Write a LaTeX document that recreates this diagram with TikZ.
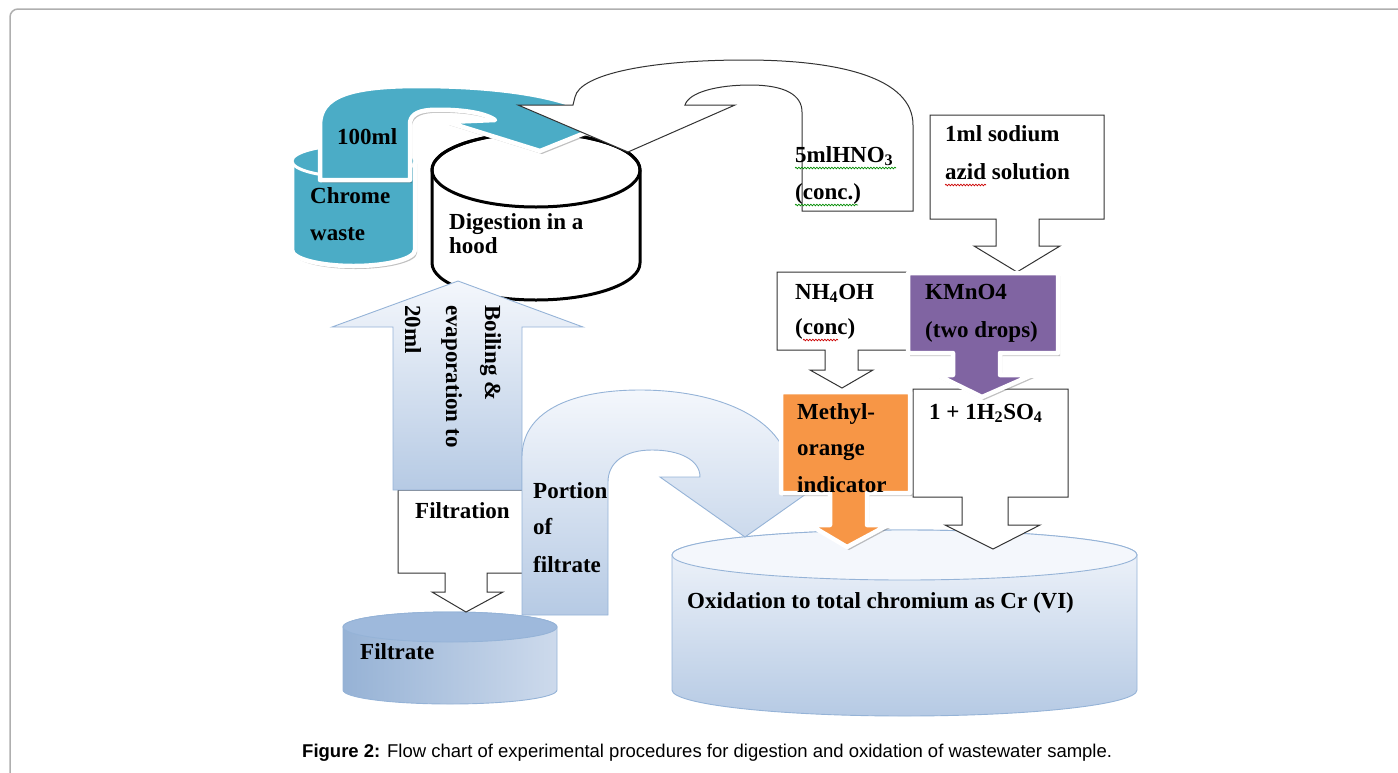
\documentclass[tikz,border=0pt]{standalone}
\usepackage{fontspec}
\setmainfont{Liberation Serif}
\newfontfamily\capfont{Liberation Sans}
\usetikzlibrary{decorations.pathmorphing,shadows}
\definecolor{tealc}{RGB}{75,172,198}
\definecolor{purpc}{RGB}{128,100,162}
\definecolor{orngc}{RGB}{247,150,70}
\definecolor{lblue}{RGB}{149,179,215}
\definecolor{gtop}{RGB}{244,247,252}
\definecolor{gbot}{RGB}{182,202,228}
\definecolor{fblue}{RGB}{158,185,220}
\definecolor{fblued}{RGB}{150,178,213}
\definecolor{fbluel}{RGB}{205,218,236}
\definecolor{framec}{RGB}{175,175,175}
\begin{document}
\begin{tikzpicture}[x=1pt,y=-1pt,
  lbl/.style={anchor=base west, inner sep=0pt, font=\fontsize{23}{28}\selectfont\bfseries},
  glow/.style={draw=white, line width=4.5pt, line join=round,
     drop shadow={shadow xshift=2pt, shadow yshift=-3pt, opacity=0.35, fill=black!70}},
  thinbox/.style={draw=black!80, line width=1pt, fill=white, line join=miter},
  blueshape/.style={draw=lblue, line width=0.9pt, top color=gtop, bottom color=gbot},
  wavyg/.style={draw=green!55!black, line width=0.7pt, decorate, decoration={snake, amplitude=0.8pt, segment length=3pt}},
  wavyr/.style={draw=red!80!black, line width=0.7pt, decorate, decoration={snake, amplitude=0.8pt, segment length=3pt}}]
\useasboundingbox (0,0) rectangle (1398,772);
% frame
\draw[framec, line width=1.5pt, rounded corners=8pt] (10,780) -- (10,9) -- (1410,9);

% oxidation cylinder
\path[blueshape] (672,555) -- (672,690) arc[start angle=180, end angle=0, x radius=232.5, y radius=26] -- (1137,555) arc[start angle=0, end angle=-180, x radius=232.5, y radius=25] -- cycle;
\path[draw=lblue, line width=0.9pt, fill=gtop] (904.5,555) ellipse[x radius=232.5, y radius=25];

% filtrate cylinder
\path[draw=lblue, line width=0.9pt, shading=axis, shading angle=-35, left color=fblued, right color=fbluel] (343,627) -- (343,690) arc[start angle=180, end angle=0, x radius=107, y radius=14] -- (557,627) arc[start angle=0, end angle=-180, x radius=107, y radius=15] -- cycle;
\path[draw=lblue, line width=0.9pt, fill=fblue] (450,627) ellipse[x radius=107, y radius=15];

% chrome waste cylinder
\path[glow, fill=tealc] (292,161) -- (292,250) arc[start angle=180, end angle=0, x radius=61.5, y radius=16] -- (415,161) arc[start angle=0, end angle=-180, x radius=61.5, y radius=16] -- cycle;
\path[draw=white, line width=3pt, fill=tealc] (353.5,161) ellipse[x radius=61.5, y radius=16];

% digestion cylinder
\path[draw=black, line width=3pt, fill=white] (432,170) -- (432,263) arc[start angle=180, end angle=0, x radius=104, y radius=37] -- (640,170) arc[start angle=0, end angle=-180, x radius=104, y radius=37] -- cycle;
\draw[black, line width=3pt] (536,170) ellipse[x radius=104, y radius=37];

% teal U-turn arrow
\path[glow, fill=tealc] (320,180) -- (320,125) .. controls (320,96) and (350,86) .. (420,86) .. controls (480,86) and (535,92) .. (570,104) -- (612,122) -- (540,151) -- (447,122) -- (495,120) .. controls (482,111) and (452,109) .. (430,110) .. controls (416,111) and (410,116) .. (410,124) -- (410,180) -- cycle;

% white U-turn arrow (HNO3)
\path[thinbox] (913,211) -- (913,125) .. controls (913,78) and (840,60) .. (745,60) .. controls (650,60) and (580,74) .. (575,97) -- (573,105) -- (518,105) -- (628,152) -- (735,105) -- (685,105) .. controls (689,92) and (718,85) .. (750,85) .. controls (785,85) and (802,95) .. (802,112) -- (802,211) -- cycle;

% 1ml sodium azid callout
\path[thinbox] (930,115) -- (1104,115) -- (1104,219) -- (1039,219) -- (1039,246) -- (1060,246) -- (1017,272) -- (974,246) -- (996,246) -- (996,219) -- (930,219) -- cycle;

% NH4OH callout
\path[thinbox] (777,272) -- (925,272) -- (925,350) -- (858,350) -- (858,370) -- (873,370) -- (842,388) -- (810,370) -- (825,370) -- (825,350) -- (777,350) -- cycle;

% H2SO4 callout
\path[thinbox] (913,389) -- (1068,389) -- (1068,497) -- (1008,497) -- (1008,525) -- (1040,525) -- (993,549) -- (945,525) -- (962,525) -- (962,497) -- (913,497) -- cycle;

% KMnO4 callout
\path[glow, fill=purpc] (908,273) -- (1058,273) -- (1058,353) -- (1000,353) -- (1000,375) -- (1032,375) -- (982,397) -- (937,375) -- (953,375) -- (953,353) -- (908,353) -- cycle;

% Filtration callout
\path[thinbox] (398,490) -- (530,490) -- (530,573) -- (487,573) -- (487,592) -- (503,592) -- (466,612) -- (432,592) -- (445,592) -- (445,573) -- (398,573) -- cycle;

% Boiling arrow
\path[blueshape] (458,281) -- (583,327) -- (522,327) -- (522,490) -- (393,490) -- (393,327) -- (332,327) -- cycle;

% Portion of filtrate U-turn arrow
\path[blueshape] (522,615) -- (522,457) .. controls (522,412) and (570,390) .. (640,390) .. controls (720,390) and (790,420) .. (790,477) -- (830,477) -- (745,537) -- (660,477) -- (700,477) .. controls (700,460) and (680,450) .. (652,450) .. controls (625,450) and (608,462) .. (608,482) -- (608,615) -- cycle;

% Methyl-orange callout
\path[glow, fill=orngc] (781,392) -- (910,392) -- (910,493) -- (867,493) -- (867,525) -- (888,525) -- (847,547) -- (810,525) -- (830,525) -- (830,493) -- (781,493) -- cycle;

% texts
\node[lbl] (t100) at (337,144) {100ml};
\node[lbl] (tch1) at (310,203) {Chrome};
\node[lbl] (tch2) at (310,240) {waste};
\node[lbl] (tdg1) at (449,229) {Digestion in a};
\node[lbl] (tdg2) at (449,253) {hood};
\node[lbl] (thn1) at (795,162) {5mlHNO\textsubscript{3}};
\node[lbl] (thn2) at (795,199) {(conc.)};
\node[lbl] (taz1) at (945,141) {1ml sodium};
\node[lbl] (taz2) at (945,179) {azid solution};
\node[lbl] (tnh1) at (795,299) {NH\textsubscript{4}OH};
\node[lbl] (tnh2) at (795,334) {(conc)};
\node[lbl] (tkm1) at (925,299) {KMnO4};
\node[lbl] (tkm2) at (925,337) {(two drops)};
\node[lbl] (tmo1) at (797,419) {Methyl-};
\node[lbl] (tmo2) at (797,455) {orange};
\node[lbl] (tmo3) at (797,492) {indicator};
\node[lbl] (thso) at (929,419) {1 + 1H\textsubscript{2}SO\textsubscript{4}};
\node[lbl] (tfil) at (415,518) {Filtration};
\node[lbl] (tpo1) at (533,498) {Portion};
\node[lbl] (tpo2) at (533,534) {of};
\node[lbl] (tpo3) at (533,572) {filtrate};
\node[lbl] (tflt) at (360,659) {Filtrate};
\node[lbl] (toxi) at (687,608) {Oxidation to total chromium as Cr (VI)};
\node[lbl, rotate=-90] (tbo1) at (485,305) {Boiling \&};
\node[lbl, rotate=-90] (tbo2) at (446,305) {evaporation to};
\node[lbl, rotate=-90] (tbo3) at (405,305) {20ml};

% spell-check underlines
\draw[wavyg] (795,168) -- (896,168);
\draw[wavyg] (795,205) -- (858,205);
\draw[wavyr] (945,185) -- (986,185);
\draw[wavyr] (803,340) -- (838,340);

% caption
\node[anchor=base west, inner sep=0pt, font=\capfont\fontsize{18.5}{22}\selectfont] (cap) at (302,757) {\textbf{Figure 2:} Flow chart of experimental procedures for digestion and oxidation of wastewater sample.};
\end{tikzpicture}
\end{document}
